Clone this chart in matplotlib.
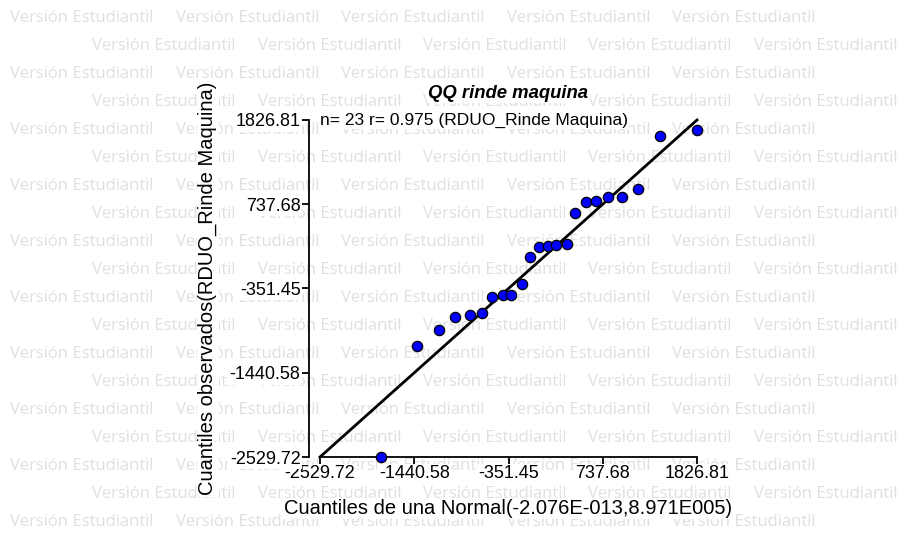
import matplotlib
matplotlib.use("Agg")
import matplotlib.pyplot as plt

plt.rcParams['font.family'] = ['Liberation Sans', 'DejaVu Sans']

# theoretical normal quantiles (x) and observed residual quantiles (y)
teoricos = [-1826.81, -1405, -1150, -965, -800, -660, -545, -420, -320, -200, -105, 0,
            105, 200, 320, 420, 545, 660, 800, 965, 1150, 1405, 1826.81]
observados = [-2529.72, -1099, -888, -716, -694, -664, -458, -436, -432, -289, 52, 181,
              202, 210, 224, 628, 763, 784, 827, 830, 931, 1620, 1697]
ticks = [-2529.72, -1440.58, -351.45, 737.68, 1826.81]
tick_labels = ["-2529.72", "-1440.58", "-351.45", "737.68", "1826.81"]
titulo = "QQ rinde maquina"
resumen = "n= 23 r= 0.975 (RDUO_Rinde Maquina)"
xlabel = "Cuantiles de una Normal(-2.076E-013,8.971E005)"
ylabel = "Cuantiles observados(RDUO_Rinde Maquina)"
marca = "Versión Estudiantil"

fig = plt.figure(figsize=(9, 5.35), dpi=100)
ax = fig.add_axes([320 / 900, 78 / 535, 377 / 900, 337 / 535])
ax.patch.set_visible(False)

# watermark rows behind everything
for k in range(19):
    y_px = 18 + 28 * k
    x0 = 10 if k % 2 == 0 else 92
    for j in range(5):
        fig.text((x0 + 165.5 * j) / 900, 1 - y_px / 535, marca, fontsize=12,
                 family='Open Sans', color='#e0e0e0', ha='left', va='center', zorder=-5)

lo, hi = ticks[0], ticks[-1]
ax.plot([lo, hi], [lo, hi], color='black', lw=2, zorder=2, clip_on=False)
ax.scatter(teoricos, observados, s=55, color='#0000ff', edgecolors='black',
           linewidths=0.9, zorder=3, clip_on=False)

ax.set_xlim(lo, hi)
ax.set_ylim(lo, hi)
ax.set_xticks(ticks)
ax.set_xticklabels(tick_labels)
ax.set_yticks(ticks)
ax.set_yticklabels(tick_labels)

for s in ['top', 'right']:
    ax.spines[s].set_visible(False)
ax.spines['left'].set_position(('outward', 8))
for s in ['left', 'bottom']:
    ax.spines[s].set_linewidth(1.3)
ax.tick_params(direction='out', length=5, width=1.3, labelsize=13, pad=1)

box = dict(facecolor='white', edgecolor='none', pad=1)
for lbl in ax.get_xticklabels() + ax.get_yticklabels():
    lbl.set_bbox(box)

ax.set_title(titulo, fontsize=13.3, fontweight='bold', fontstyle='italic', pad=16,
             bbox=box)
ax.set_xlabel(xlabel, fontsize=14.5, labelpad=12, bbox=box)
ax.set_ylabel(ylabel, fontsize=14.5, labelpad=9, bbox=box)
ax.text(0.0, 1.0, resumen, transform=ax.transAxes, fontsize=12.5,
        ha='left', va='center', bbox=box, zorder=4)

fig.savefig("out.png", dpi=100)
